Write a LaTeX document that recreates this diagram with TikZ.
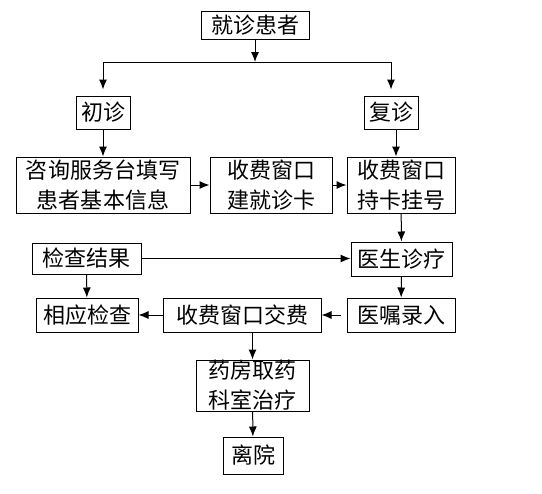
\documentclass[tikz,border=0pt]{standalone}
\usepackage{fontspec}
\setmainfont{Noto Sans CJK SC}
\usetikzlibrary{arrows.meta}
\begin{document}
\begin{tikzpicture}[x=0.75pt,y=-0.75pt,
  box/.style={draw,line width=0.75pt,inner sep=0pt,align=center,font=\fontsize{16.5}{22.5}\selectfont},
  arr/.style={-{Latex[length=7.5pt,width=6pt]},line width=0.75pt}]
\useasboundingbox (0,0) rectangle (542,493);
\node[box,minimum width=81pt,minimum height=21pt] (visit) at (255,25) {就诊患者};
\node[box,minimum width=40.5pt,minimum height=24.75pt] (first) at (103,112.5) {初诊};
\node[box,minimum width=40.5pt,minimum height=24.75pt] (revisit) at (391,112.5) {复诊};
\node[box,minimum width=130.5pt,minimum height=42pt] (consult) at (103,185) {咨询服务台填写\\患者基本信息};
\node[box,minimum width=91.5pt,minimum height=42pt] (card) at (271,185) {收费窗口\\建就诊卡};
\node[box,minimum width=81pt,minimum height=42pt] (register) at (401,185) {收费窗口\\持卡挂号};
\node[box,minimum width=81.75pt,minimum height=23.25pt] (result) at (86.5,258.5) {检查结果};
\node[box,minimum width=75.75pt,minimum height=25.5pt] (doctor) at (401.5,259) {医生诊疗};
\node[box,minimum width=76.5pt,minimum height=25.5pt] (exam) at (87,315) {相应检查};
\node[box,minimum width=118.5pt,minimum height=25.5pt] (pay) at (242,315) {收费窗口交费};
\node[box,minimum width=81pt,minimum height=25.5pt] (order) at (401,315) {医嘱录入};
\node[box,minimum width=84.75pt,minimum height=38.25pt] (pharmacy) at (252.5,385.5) {药房取药\\科室治疗};
\node[box,minimum width=45pt,minimum height=27.75pt] (leave) at (253,455.5) {离院};
\coordinate (split) at (255,62);
% branch
\draw[arr] (visit) -- (split);
\draw[line width=0.75pt] (first |- split) -- (revisit |- split);
\draw[arr,shorten >=4.5pt] (first |- split) -- (first);
\draw[arr,shorten >=4.5pt] (revisit |- split) -- (revisit);
% first visit
\draw[arr] (first) -- (consult);
\draw[arr] (consult) -- (card);
\draw[arr] (card) -- (register);
\draw[arr] ([xshift=3.75pt]revisit.south) -- ([xshift=-3.75pt]register.north);
% treatment
\draw[arr] (register) -- (doctor);
\draw[arr] (result.east) -- (result.east -| doctor.west);
\draw[arr] (result) -- (exam);
\draw[arr] (doctor) -- (order);
\draw[arr,shorten <=4pt] (order) -- (pay);
\draw[arr] (pay) -- (exam);
\draw[arr] (pay.south -| pharmacy) -- (pharmacy);
\draw[arr] (pharmacy) -- (leave);
\end{tikzpicture}
\end{document}
